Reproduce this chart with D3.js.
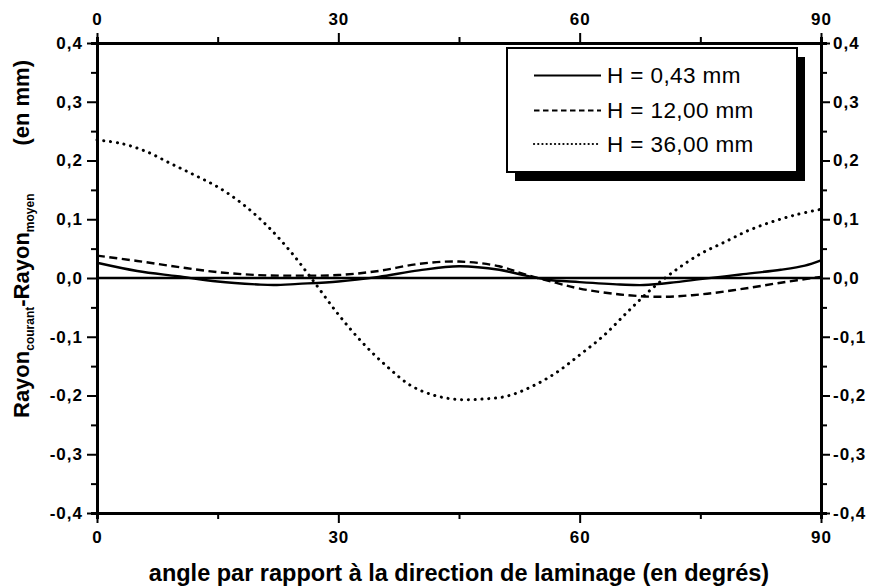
<!DOCTYPE html>
<html>
<head>
<meta charset="utf-8">
<script src="https://cdn.jsdelivr.net/npm/d3@7"></script>
<style>
  html, body { margin: 0; padding: 0; background: #fff; }
  svg { display: block; }
  text { font-family: "Liberation Sans", Arial, Helvetica, sans-serif; fill: #000; }
</style>
</head>
<body>
<svg id="chart" width="873" height="588"></svg>
<script>
// ---- data ----
const xTicks = [0, 30, 60, 90];
const xMinorTicks = [15, 45, 75];
const yTicks = [-0.4, -0.3, -0.2, -0.1, 0.0, 0.1, 0.2, 0.3, 0.4];
const yMinorTicks = [-0.35, -0.25, -0.15, -0.05, 0.05, 0.15, 0.25, 0.35];

const seriesNames = ["H = 0,43 mm", "H = 12,00 mm", "H = 36,00 mm"];

const anglesH043 = [0, 5, 10, 15, 20, 22, 25, 30, 35, 40, 45, 50, 53, 56, 60, 65, 68, 72, 75, 80, 85, 88, 90];
const valuesH043 = [0.026, 0.012, 0.003, -0.006, -0.011, -0.012, -0.010, -0.006, 0.002, 0.013, 0.020, 0.014, 0.005, -0.003, -0.007, -0.011, -0.012, -0.007, -0.002, 0.006, 0.014, 0.021, 0.030];

const anglesH12 = [0, 5, 10, 15, 20, 25, 30, 35, 40, 45, 50, 53, 57, 60, 65, 70, 75, 80, 85, 90];
const valuesH12 = [0.038, 0.029, 0.019, 0.010, 0.005, 0.004, 0.005, 0.012, 0.024, 0.028, 0.020, 0.007, -0.008, -0.018, -0.028, -0.032, -0.028, -0.019, -0.008, 0.002];

const anglesH36 = [0, 3, 6, 9, 12, 15, 18, 21, 24, 27, 30, 33, 36, 39, 42, 45, 48, 51, 54, 57, 60, 63, 66, 69, 72, 75, 78, 81, 84, 87, 90];
const valuesH36 = [0.235, 0.229, 0.216, 0.196, 0.176, 0.155, 0.127, 0.091, 0.046, -0.007, -0.062, -0.110, -0.150, -0.183, -0.200, -0.207, -0.206, -0.201, -0.185, -0.162, -0.131, -0.098, -0.057, -0.018, 0.014, 0.041, 0.061, 0.081, 0.096, 0.108, 0.117];

const referenceLevel = 0;

const xTitle = "angle par rapport à la direction de laminage (en degrés)";

// ---- layout ----
const svg = d3.select("#chart");
const L = 97, R = 821, T = 43, B = 513;
const x = d3.scaleLinear().domain([0, 90]).range([L, R]);
const y = d3.scaleLinear().domain([-0.4, 0.4]).range([B, T]);
const fmt = d => d3.format(".1f")(d).replace(".", ",").replace("\u2212", "-");

const series = [
  { name: seriesNames[0], xs: anglesH043, ys: valuesH043, dash: null, width: 2.4, cap: "butt" },
  { name: seriesNames[1], xs: anglesH12, ys: valuesH12, dash: "8,4.5", width: 2.4, cap: "butt" },
  { name: seriesNames[2], xs: anglesH36, ys: valuesH36, dash: "0.1,6.7", width: 3, cap: "round" }
];
const legendStyle = [
  { dash: null, width: 2, cap: "butt" },
  { dash: "5.5,3.5", width: 2, cap: "butt" },
  { dash: "0.1,4.1", width: 2.2, cap: "round" }
];

// reference line y = 0
svg.append("line")
  .attr("x1", x(0)).attr("x2", x(90))
  .attr("y1", y(referenceLevel)).attr("y2", y(referenceLevel))
  .attr("stroke", "#000").attr("stroke-width", 2.6);

const line = d3.line().x(d => x(d[0])).y(d => y(d[1])).curve(d3.curveCatmullRom.alpha(0.5));
series.forEach(s => {
  const pts = s.xs.map((a, i) => [a, s.ys[i]]);
  svg.append("path")
    .attr("d", line(pts))
    .attr("fill", "none")
    .attr("stroke", "#000")
    .attr("stroke-width", s.width)
    .attr("stroke-linecap", s.cap)
    .attr("stroke-dasharray", s.dash);
});

// ---- axes ----
function styleAxis(g) {
  g.select(".domain").attr("stroke", "#000").attr("stroke-width", 3);
  g.selectAll(".tick line").attr("stroke", "#000").attr("stroke-width", 2);
  g.selectAll(".tick text")
    .attr("fill", "#000")
    .style("font-family", '"Liberation Sans", Arial, sans-serif')
    .style("font-size", "17px")
    .style("font-weight", "bold")
    .style("letter-spacing", "1px");
}

// minor ticks first
svg.append("g").attr("transform", `translate(${L},0)`)
  .call(d3.axisLeft(y).tickValues(yMinorTicks).tickSize(6).tickFormat(""))
  .call(styleAxis);
svg.append("g").attr("transform", `translate(${R},0)`)
  .call(d3.axisRight(y).tickValues(yMinorTicks).tickSize(6).tickFormat(""))
  .call(styleAxis);
svg.append("g").attr("transform", `translate(0,${T})`)
  .call(d3.axisTop(x).tickValues(xMinorTicks).tickSize(6).tickFormat(""))
  .call(styleAxis);
svg.append("g").attr("transform", `translate(0,${B})`)
  .call(d3.axisBottom(x).tickValues(xMinorTicks).tickSize(6).tickFormat(""))
  .call(styleAxis);

// major ticks
svg.append("g").attr("transform", `translate(${L},0)`)
  .call(d3.axisLeft(y).tickValues(yTicks).tickSize(10).tickSizeOuter(0).tickPadding(4).tickFormat(fmt))
  .call(styleAxis);
svg.append("g").attr("transform", `translate(${R},0)`)
  .call(d3.axisRight(y).tickValues(yTicks).tickSize(9).tickSizeOuter(0).tickPadding(3).tickFormat(fmt))
  .call(styleAxis);
svg.append("g").attr("transform", `translate(0,${T})`)
  .call(d3.axisTop(x).tickValues(xTicks).tickSize(10).tickSizeOuter(0).tickPadding(8).tickFormat(d3.format("d")))
  .call(styleAxis);
svg.append("g").attr("transform", `translate(0,${B})`)
  .call(d3.axisBottom(x).tickValues(xTicks).tickSize(10).tickSizeOuter(0).tickPadding(8).tickFormat(d3.format("d")))
  .call(styleAxis);

// ---- x title ----
svg.append("text")
  .attr("x", (L + R) / 2).attr("y", 581)
  .attr("text-anchor", "middle")
  .style("font-size", "23.5px").style("font-weight", "bold")
  .text(xTitle);

// ---- y title ----
const yt = svg.append("text")
  .attr("transform", "translate(29,418) rotate(-90)")
  .attr("text-anchor", "start")
  .style("font-size", "22px").style("font-weight", "bold");
yt.append("tspan").text("Rayon");
yt.append("tspan").attr("dy", 5).style("font-size", "12px").text("courant");
yt.append("tspan").attr("dy", -5).text("-Rayon");
yt.append("tspan").attr("dy", 5).style("font-size", "12px").text("moyen");

svg.append("text")
  .attr("transform", "translate(29,60) rotate(-90)")
  .attr("text-anchor", "end")
  .style("font-size", "22px").style("font-weight", "bold")
  .text("(en mm)");

// ---- legend ----
const lg = svg.append("g");
lg.append("rect").attr("x", 515).attr("y", 57).attr("width", 290).attr("height", 124).attr("fill", "#000");
lg.append("rect").attr("x", 507).attr("y", 48).attr("width", 290).attr("height", 124)
  .attr("fill", "#fff").attr("stroke", "#000").attr("stroke-width", 2);
const rowY = [75.5, 110.5, 144];
series.forEach((s, i) => {
  const st = legendStyle[i];
  lg.append("line")
    .attr("x1", 534).attr("x2", 601)
    .attr("y1", rowY[i]).attr("y2", rowY[i])
    .attr("stroke", "#000").attr("stroke-width", st.width)
    .attr("stroke-linecap", st.cap)
    .attr("stroke-dasharray", st.dash);
  lg.append("text")
    .attr("x", 607).attr("y", rowY[i] + 7.5)
    .style("font-size", "22.5px").style("letter-spacing", "0.4px")
    .text(s.name);
});
</script>
</body>
</html>
